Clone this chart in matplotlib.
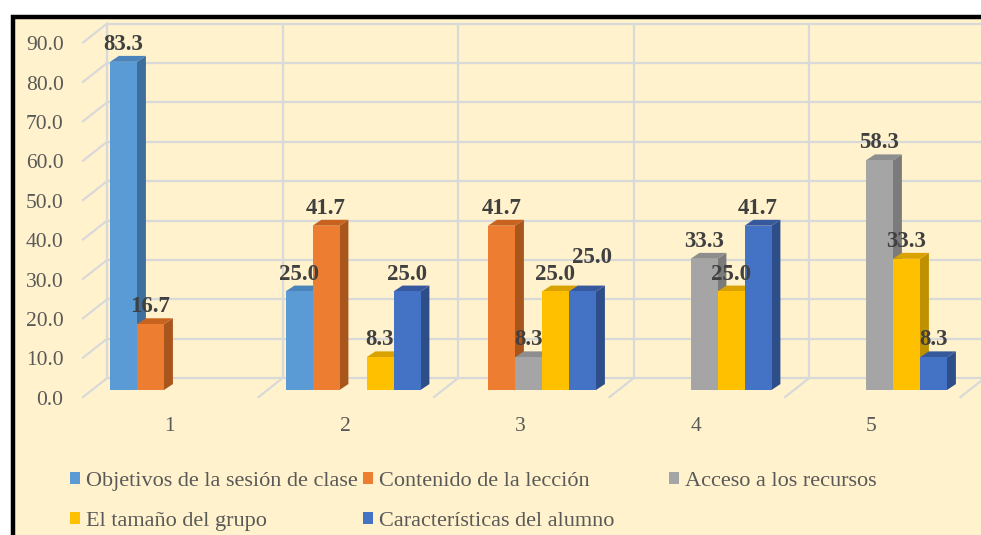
import numpy as np
import matplotlib.pyplot as plt
from matplotlib.patches import Polygon, Rectangle, Patch

plt.rcParams['font.family'] = ['Liberation Serif', 'DejaVu Serif']

# datos
grupos = ['1', '2', '3', '4', '5']
series = ['Objetivos de la sesión de clase', 'Contenido de la lección',
          'Acceso a los recursos', 'El tamaño del grupo',
          'Características del alumno']
objetivos = [83.3, 25.0, 0, 0, 0]
contenido = [16.7, 41.7, 41.7, 0, 0]
acceso = [0, 0, 8.3, 33.3, 58.3]
tamano = [0, 8.3, 25.0, 25.0, 33.3]
caracteristicas = [0, 25.0, 25.0, 41.7, 8.3]
yticks = [0, 10, 20, 30, 40, 50, 60, 70, 80, 90]

valores = [objetivos, contenido, acceso, tamano, caracteristicas]
frente = ['#5B9BD5', '#ED7D31', '#A5A5A5', '#FFC000', '#4472C4']
lado = ['#3E6E9C', '#A9561D', '#7B7B7B', '#BF9000', '#2E4E8A']
arriba = ['#4A84BA', '#C8631F', '#8E8E8E', '#D9A200', '#36599E']

fig = plt.figure(figsize=(9.81, 5.35), dpi=100)
fig.patch.set_facecolor('white')
# fondo crema con borde negro
fig.patches.append(Rectangle((12.5 / 981, -0.1), 1.2, (535 - 17.5) / 535 + 0.1,
                             transform=fig.transFigure, facecolor='#FFF2CC',
                             edgecolor='black', lw=3.2, zorder=-5))

ax = fig.add_axes([83 / 981, (535 - 401.8) / 535, 898 / 981, 378.2 / 535])
ax.set_xlim(0, 898 / 27)
ax.set_ylim(-3, 93)
ax.patch.set_visible(False)
for s in ax.spines.values():
    s.set_visible(False)

# pared del fondo (pseudo 3D)
BX, BY, FY = 0.89, 3.0, 1.8
gc = '#D9D9D9'
xmax = 898 / 27
for v in yticks:
    ax.plot([BX, xmax], [v + BY, v + BY], color=gc, lw=1.6, zorder=1, clip_on=False)
    ax.plot([0, BX], [v - FY, v + BY], color=gc, lw=1.6, zorder=1, clip_on=False)
for k in range(5):
    ax.plot([BX + 6.5 * k, BX + 6.5 * k], [BY, 90 + BY], color=gc, lw=1.6, zorder=1, clip_on=False)
for k in range(1, 6):
    ax.plot([6.5 * k, BX + 6.5 * k], [-FY, BY], color=gc, lw=1.6, zorder=1, clip_on=False)

# barras 3D
dx, dy = 0.33, 1.5
z = 3
for i in range(len(grupos)):
    for j in range(len(series)):
        v = valores[j][i]
        if v == 0:
            continue
        x = 1 + 6.5 * i + j
        ax.add_patch(Polygon([(x + 1, 0), (x + 1 + dx, dy), (x + 1 + dx, v + dy), (x + 1, v)],
                             closed=True, facecolor=lado[j], edgecolor='none', zorder=z))
        ax.add_patch(Polygon([(x, v), (x + dx, v + dy), (x + 1 + dx, v + dy), (x + 1, v)],
                             closed=True, facecolor=arriba[j], edgecolor='none', zorder=z))
        ax.bar(x, v, width=1, align='edge', color=frente[j], zorder=z)
        z += 1

# etiquetas de datos
ajuste = {(2, 4): (0.35, 4.2)}
for i in range(len(grupos)):
    for j in range(len(series)):
        v = valores[j][i]
        if v == 0:
            continue
        x = 1 + 6.5 * i + j + 0.5
        ox, oy = ajuste.get((i, j), (0, 0))
        ax.text(x + ox, v + 4.4 + oy, '%.1f' % v, ha='center', va='center',
                fontsize=16.5, fontweight='bold', color='#404040', zorder=50)

ax.set_yticks(np.array(yticks) - 2.0, labels=['%.1f' % v for v in yticks])
ax.set_xticks(np.array([3.2 + 6.5 * i for i in range(5)]), labels=grupos)
ax.tick_params(axis='y', length=0, pad=14, labelsize=15.5, labelcolor='#595959')
ax.tick_params(axis='x', length=0, pad=11, labelsize=15.5, labelcolor='#595959')

# leyenda en tres columnas
cols = [[0, 3], [1, 4], [2]]
xs = [70, 363, 669]
for c, xp in zip(cols, xs):
    h = [Patch(facecolor=frente[k]) for k in c]
    l = [series[k] for k in c]
    fig.legend(h, l, loc='upper left', bbox_to_anchor=(xp / 981, 1 - 472 / 535),
               frameon=False, fontsize=16, handlelength=0.45, handleheight=0.45,
               handletextpad=0.25, labelspacing=0.95, borderpad=0, borderaxespad=0,
               labelcolor='#595959')

fig.savefig('out.png', dpi=100)
